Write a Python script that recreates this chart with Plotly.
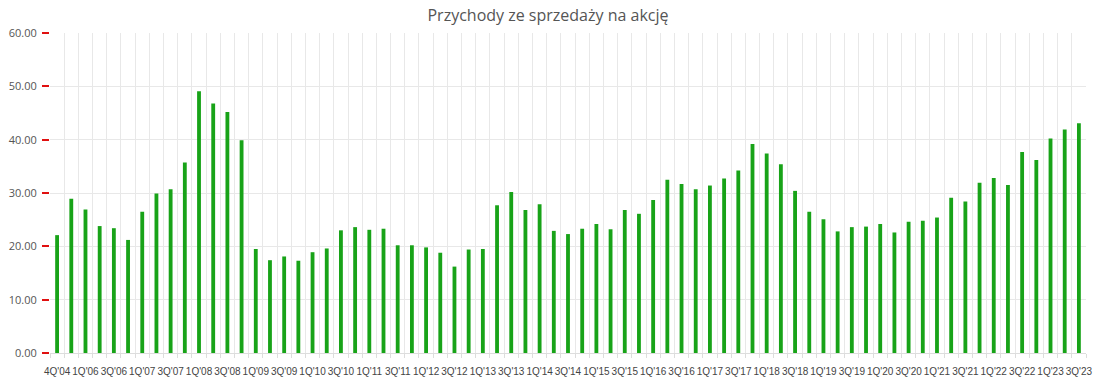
import plotly.graph_objects as go

quarters = [
    "4Q'04", "4Q'05",
    "1Q'06", "2Q'06", "3Q'06", "4Q'06",
    "1Q'07", "2Q'07", "3Q'07", "4Q'07",
    "1Q'08", "2Q'08", "3Q'08", "4Q'08",
    "1Q'09", "2Q'09", "3Q'09", "4Q'09",
    "1Q'10", "2Q'10", "3Q'10", "4Q'10",
    "1Q'11", "2Q'11", "3Q'11", "4Q'11",
    "1Q'12", "2Q'12", "3Q'12", "4Q'12",
    "1Q'13", "2Q'13", "3Q'13", "4Q'13",
    "1Q'14", "2Q'14", "3Q'14", "4Q'14",
    "1Q'15", "2Q'15", "3Q'15", "4Q'15",
    "1Q'16", "2Q'16", "3Q'16", "4Q'16",
    "1Q'17", "2Q'17", "3Q'17", "4Q'17",
    "1Q'18", "2Q'18", "3Q'18", "4Q'18",
    "1Q'19", "2Q'19", "3Q'19", "4Q'19",
    "1Q'20", "2Q'20", "3Q'20", "4Q'20",
    "1Q'21", "2Q'21", "3Q'21", "4Q'21",
    "1Q'22", "2Q'22", "3Q'22", "4Q'22",
    "1Q'23", "2Q'23", "3Q'23",
]

revenue_per_share = [
    22.1, 28.9,
    26.9, 23.8, 23.4, 21.2,
    26.5, 29.9, 30.7, 35.7,
    49.1, 46.8, 45.2, 39.9,
    19.5, 17.4, 18.1, 17.3,
    18.9, 19.6, 23.0, 23.6,
    23.1, 23.3, 20.2, 20.2,
    19.8, 18.8, 16.2, 19.4,
    19.5, 27.7, 30.2, 26.8,
    27.9, 22.9, 22.3, 23.3,
    24.2, 23.2, 26.8, 26.1,
    28.7, 32.5, 31.7, 30.7,
    31.4, 32.7, 34.2, 39.2,
    37.4, 35.4, 30.4, 26.5,
    25.1, 22.8, 23.6, 23.7,
    24.2, 22.6, 24.6, 24.8,
    25.4, 29.1, 28.4, 31.9,
    32.8, 31.5, 37.7, 36.2,
    40.2, 41.9, 43.1,
]

y_ticks = [0, 10, 20, 30, 40, 50, 60]
title_text = "Przychody ze sprzedaży na akcję"

idx = list(range(len(quarters)))

fig = go.Figure(
    go.Bar(
        x=idx,
        y=revenue_per_share,
        width=0.27,
        marker=dict(color="#18a318", line=dict(width=0)),
        hovertext=quarters,
    )
)

fig.update_layout(
    width=1096,
    height=384,
    margin=dict(l=50, r=10, t=33, b=31),
    paper_bgcolor="white",
    plot_bgcolor="white",
    showlegend=False,
    title=dict(
        text=title_text,
        x=0.5,
        xanchor="center",
        y=0.96,
        yref="container",
        yanchor="middle",
        font=dict(family="Open Sans", size=16, color="#555555"),
    ),
    font=dict(family="Liberation Sans", color="#555555"),
)

fig.update_xaxes(
    range=[-0.5, len(quarters) - 0.5],
    automargin=False,
    tickmode="array",
    tickvals=idx[::2],
    ticktext=quarters[::2],
    tickangle=0,
    tickfont=dict(family="Liberation Sans", size=10, color="#444444"),
    ticklabelstandoff=9,
    showgrid=False,
    ticks="",
    showline=True,
    linecolor="#dddddd",
    linewidth=1,
    zeroline=False,
    minor=dict(
        tickmode="linear",
        tick0=0.5,
        dtick=1,
        showgrid=True,
        gridcolor="#e8e8e8",
        gridwidth=1,
        ticks="outside",
        ticklen=4,
        tickcolor="#dddddd",
    ),
)

fig.update_yaxes(
    range=[0, 60],
    automargin=False,
    tickmode="array",
    tickvals=y_ticks,
    tickformat=".2f",
    tickfont=dict(family="Open Sans", size=11, color="#555555"),
    ticklabelstandoff=3,
    showgrid=True,
    gridcolor="#e8e8e8",
    gridwidth=1,
    ticks="outside",
    ticklen=7,
    tickwidth=2,
    tickcolor="#e01010",
    zeroline=False,
    showline=False,
)

fig.write_html(
    "out.html",
    config={"displayModeBar": False},
    post_script="document.body.style.margin='0';document.body.style.padding='0';",
)
